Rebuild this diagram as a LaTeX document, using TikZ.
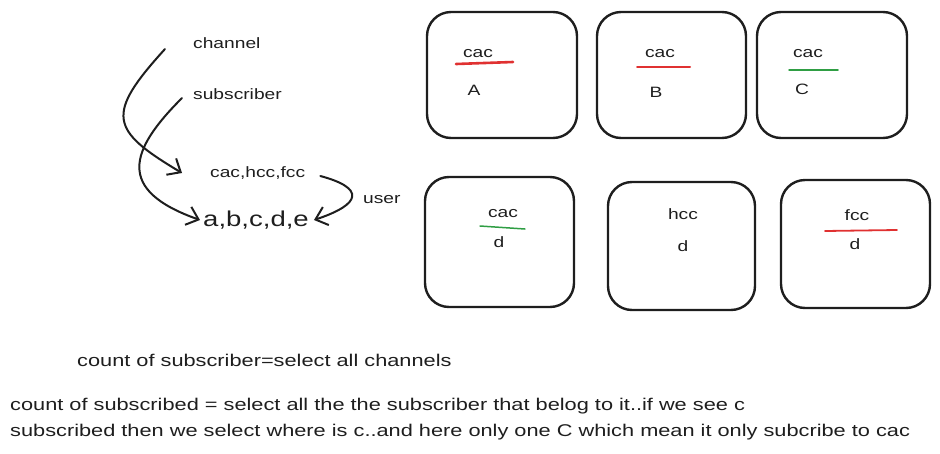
\documentclass[tikz,border=0pt]{standalone}
\usepackage{fontspec}
\setmainfont[FakeStretch=1.28]{Liberation Sans}
\usetikzlibrary{arrows.meta}
\definecolor{ink}{HTML}{1E1E1E}
\definecolor{xred}{HTML}{E03131}
\definecolor{xgreen}{HTML}{2F9E44}
\tikzset{
  card/.style={draw=ink, line width=2.4pt, rounded corners=24pt},
  lbl/.style={text=ink, inner sep=0pt, font=\fontsize{15}{18}\selectfont},
  big/.style={text=ink, inner sep=0pt, font=\fontsize{21.5}{24}\selectfont},
  note/.style={text=ink, inner sep=0pt, anchor=west, font=\fontsize{17}{20}\selectfont},
  conn/.style={draw=ink, line width=2pt, line cap=round, -{Straight Barb[length=11pt,width=19pt,line width=2pt]}},
  redline/.style={draw=xred, line width=2pt, line cap=round},
  greenline/.style={draw=xgreen, line width=1.5pt, line cap=round}
}
\begin{document}
\begin{tikzpicture}[x=1pt,y=-1pt]
\useasboundingbox (0,0) rectangle (940,453);
% top row cards
\draw[card] (427,12) rectangle (577,138);
\draw[card] (597,12) rectangle (746,138);
\draw[card] (757,12) rectangle (907,138);
% bottom row cards
\draw[card] (425,177) rectangle (574,307);
\draw[card] (608,182) rectangle (755,310);
\draw[card] (781,180) rectangle (930,308);
% card texts
\node[lbl] (cacA) at (478,54) {cac};
\draw[redline, line width=2.6pt] (456,64) -- (513,62);
\node[lbl] (A) at (474,90) {A};
\node[lbl] (cacB) at (660,54) {cac};
\draw[redline] (637,67) -- (690,67);
\node[lbl] (B) at (656,92) {B};
\node[lbl] (cacC) at (808,54) {cac};
\draw[greenline] (789,70) -- (838,70);
\node[lbl] (C) at (802,89) {C};
\node[lbl] (cacD) at (503,214) {cac};
\draw[greenline] (480,226) -- (525,229);
\node[lbl] (d1) at (499,242) {d};
\node[lbl] (hcc) at (683,214) {hcc};
\node[lbl] (d2) at (683,246) {d};
\node[lbl] (fcc) at (857,215) {fcc};
\draw[redline, line width=1.8pt] (825,231) -- (897,230);
\node[lbl] (d3) at (855,244) {d};
% left diagram
\node[lbl, anchor=west] (channel) at (193,43) {channel};
\node[lbl, anchor=west] (subscriber) at (193,94) {subscriber};
\node[lbl, anchor=west] (groups) at (210,173) {cac,hcc,fcc};
\node[big, anchor=west] (users) at (203,220) {a,b,c,d,e};
\node[lbl, anchor=west] (user) at (363,200) {user};
\draw[conn] ([xshift=-28pt,yshift=-6pt]channel.west) .. controls (105,115) and (110,130) .. ([xshift=-28pt]groups.west);
\draw[conn] ([xshift=-11pt,yshift=-4pt]subscriber.west) .. controls (130,150) and (115,190) .. ([xshift=-3pt]users.west);
\draw[conn] ([xshift=15pt,yshift=-3pt]groups.east) .. controls (365,188) and (362,204) .. ([xshift=5pt]users.east);
% notes
\node[note] (n1) at (77,360) {count of subscriber=select all channels};
\node[note] (n2) at (10,406) {count of subscribed = select all the the subscriber that belog to it..if we see c};
\node[note] (n3) at (10,432) {subscribed then we select where is c..and here only one C which mean it only subcribe to cac};
\end{tikzpicture}
\end{document}
